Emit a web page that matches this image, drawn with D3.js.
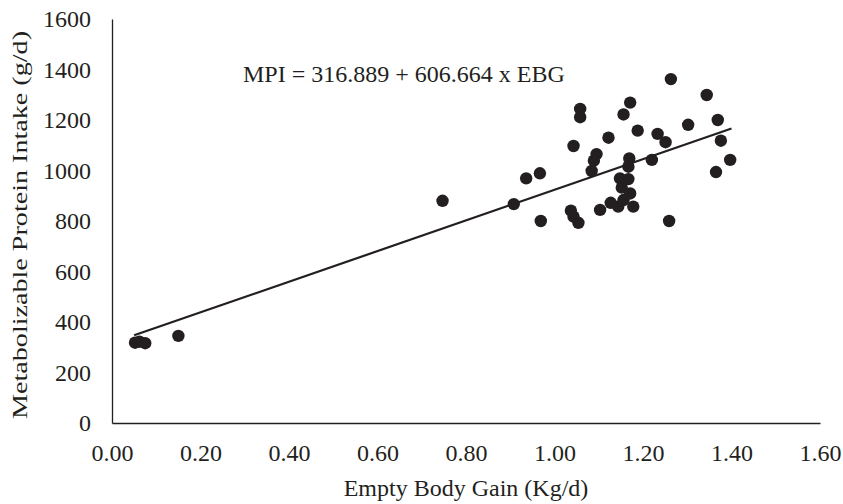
<!DOCTYPE html>
<html>
<head>
<meta charset="utf-8">
<script src="https://cdn.jsdelivr.net/npm/d3@7"></script>
<style>
  body { margin: 0; background: #fff; }
  text { font-family: "Liberation Serif", "Times New Roman", serif; fill: #231f20; }
</style>
</head>
<body>
<svg width="843" height="504"></svg>
<script>
// empty body gain (kg/d) and metabolizable protein intake (g/d)
var ebg = [0.052, 0.062, 0.075, 0.150, 0.747, 0.908, 0.936, 0.967, 0.969,
  1.037, 1.043, 1.043, 1.054, 1.058, 1.058, 1.084, 1.089, 1.095, 1.103,
  1.122, 1.127, 1.144, 1.148, 1.152, 1.156, 1.156, 1.167, 1.167, 1.169,
  1.171, 1.171, 1.178, 1.188, 1.220, 1.233, 1.251, 1.259, 1.263, 1.302,
  1.344, 1.365, 1.369, 1.376, 1.397];
var mpi = [318, 322, 316, 345, 880, 867, 969, 989, 800,
  841, 1097, 817, 793, 1244, 1211, 998, 1039, 1065, 844,
  1130, 872, 857, 969, 932, 883, 1222, 966, 1015, 1048,
  1269, 909, 857, 1158, 1042, 1145, 1112, 800, 1362, 1181,
  1299, 994, 1200, 1118, 1042];

var xTicks = [0, 0.2, 0.4, 0.6, 0.8, 1.0, 1.2, 1.4, 1.6];
var yTicks = [0, 200, 400, 600, 800, 1000, 1200, 1400, 1600];
var intercept = 316.889, slope = 606.664;
var fitRange = [0.05, 1.40];

var svg = d3.select("svg"),
    margin = {left: 112, right: 23, top: 19, bottom: 81},
    width = +svg.attr("width"),
    height = +svg.attr("height");

var x = d3.scaleLinear().domain([0, 1.6]).range([margin.left, width - margin.right]);
var y = d3.scaleLinear().domain([0, 1600]).range([height - margin.bottom, margin.top]);

var g = svg.append("g");

// axes, no tick marks, just labels
var xAxis = g.append("g")
    .attr("transform", "translate(0," + y(0) + ")")
    .call(d3.axisBottom(x).tickValues(xTicks).tickSize(0).tickPadding(21).tickFormat(d3.format(".2f")));
var yAxis = g.append("g")
    .attr("transform", "translate(" + x(0) + ",0)")
    .call(d3.axisLeft(y).tickValues(yTicks).tickSize(0).tickPadding(21).tickFormat(d3.format("d")));

g.selectAll(".domain").attr("stroke", "#231f20").attr("stroke-width", 1.3);
g.selectAll(".tick text")
    .style("font-family", "Liberation Serif, serif")
    .style("font-size", "24px")
    .attr("fill", "#231f20");
yAxis.selectAll(".tick text").attr("dy", "0.33em");

// trend line
var line = d3.line()
    .x(function(d) { return x(d); })
    .y(function(d) { return y(intercept + slope * d); });
g.append("path")
    .datum(fitRange)
    .attr("d", line)
    .attr("fill", "none")
    .attr("stroke", "#231f20")
    .attr("stroke-width", 2.2);

// points
g.selectAll(".pt")
    .data(ebg)
    .enter()
    .append("circle")
    .attr("class", "pt")
    .attr("cx", function(d) { return x(d); })
    .attr("cy", function(d, i) { return y(mpi[i]); })
    .attr("r", 6.2)
    .attr("fill", "#231f20");

// equation
g.append("text")
    .attr("x", 243)
    .attr("y", 82)
    .style("font-size", "24px")
    .text("MPI = 316.889 + 606.664 x EBG");

// axis titles
g.append("text")
    .attr("x", x(0.8))
    .attr("y", 496)
    .attr("text-anchor", "middle")
    .style("font-size", "24px")
    .text("Empty Body Gain (Kg/d)");

g.append("text")
    .attr("transform", "translate(27,225) rotate(-90)")
    .attr("text-anchor", "middle")
    .attr("textLength", 388)
    .attr("lengthAdjust", "spacingAndGlyphs")
    .style("font-size", "22px")
    .text("Metabolizable Protein Intake (g/d)");
</script>
</body>
</html>
